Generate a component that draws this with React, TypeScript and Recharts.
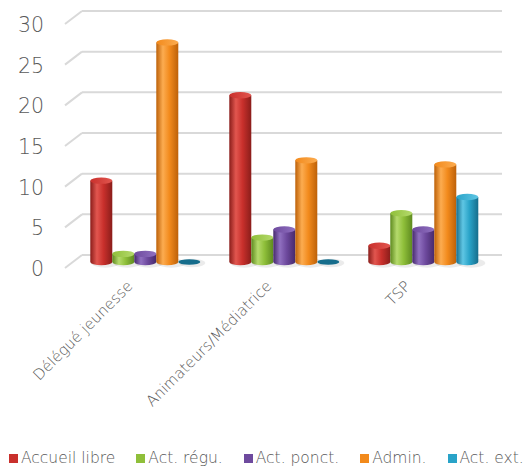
import React from 'react';
import { BarChart, Bar, XAxis, YAxis, CartesianGrid, Legend } from 'recharts';

const categories = ['Délégué jeunesse', 'Animateurs/Médiatrice', 'TSP'];
const accueilLibre = [10, 20.5, 2];
const actRegu = [1, 3, 6];
const actPonct = [1, 4, 4];
const admin = [27, 12.5, 12];
const actExt = [0, 0, 8];
const yTicks = [0, 5, 10, 15, 20, 25, 30];

const seriesDefs = [
  { key: 'accueil', name: 'Accueil libre', values: accueilLibre, base: '#c9302c', light: '#e2564f', dark: '#8a1d1a' },
  { key: 'regu', name: 'Act. régu.', values: actRegu, base: '#8fbf3a', light: '#b5da6c', dark: '#5e8a1f' },
  { key: 'ponct', name: 'Act. ponct.', values: actPonct, base: '#6e4a9e', light: '#9070c0', dark: '#46296c' },
  { key: 'admin', name: 'Admin.', values: admin, base: '#f28a1c', light: '#fcac50', dark: '#bd6109' },
  { key: 'ext', name: 'Act. ext.', values: actExt, base: '#29a3c8', light: '#5fc6e4', dark: '#166d8c' },
];

const data = categories.map((c, i) => {
  const row: any = { name: c };
  seriesDefs.forEach((s) => (row[s.key] = s.values[i]));
  return row;
});

const FONT = '"DejaVu Sans", sans-serif';
const TEXT = '#595959';

const makeCylinder = (s: any) => (props: any) => {
  const { x, y, width, height } = props;
  if (x == null || isNaN(x)) return null;
  const rx = width / 2;
  const ry = 3.2;
  const cx = x + rx;
  const h = Math.max(0, height || 0);
  const bottom = y + h;
  if (h < 0.5) {
    return (
      <g>
        <ellipse cx={cx + 3} cy={bottom + 1} rx={rx + 2} ry={ry + 1} fill="rgba(0,0,0,0.08)" />
        <ellipse cx={cx} cy={bottom} rx={rx} ry={ry - 0.5} fill={s.dark} />
      </g>
    );
  }
  return (
    <g>
      <ellipse cx={cx + 4} cy={bottom + 1} rx={rx + 3} ry={ry + 1.5} fill="rgba(0,0,0,0.08)" />
      <path
        d={`M${x},${y} L${x},${bottom} A${rx},${ry} 0 0 0 ${x + width},${bottom} L${x + width},${y} Z`}
        fill={`url(#grad-${s.key})`}
      />
      <ellipse cx={cx} cy={y} rx={rx} ry={ry} fill={`url(#top-${s.key})`} />
    </g>
  );
};

const GridLine = (props: any) => {
  const { x1, x2, y1 } = props;
  return (
    <g>
      <line x1={x1 - 10} y1={y1 + 6} x2={x1 + 7} y2={y1 - 7} stroke="#d9d9d9" strokeWidth={2} />
      <line x1={x1 + 7} y1={y1 - 7} x2={x2 + 10} y2={y1 - 7} stroke="#d9d9d9" strokeWidth={2} />
    </g>
  );
};

const YTick = (props: any) => {
  const { y, payload } = props;
  return (
    <text x={44} y={y + 7} textAnchor="end" dominantBaseline="central" fontSize={20.5} fontWeight={300} fontFamily={FONT} fill={TEXT}>
      {payload.value}
    </text>
  );
};

const XTick = (props: any) => {
  const { x, y, payload } = props;
  return (
    <text
      transform={`translate(${x - 11},${y + 17}) rotate(-45)`}
      textAnchor="end"
      fontSize={15}
      fontWeight={300}
      fontFamily={FONT}
      fill={TEXT}
    >
      {payload.value}
    </text>
  );
};

const LegendContent = () => (
  <div
    style={{
      display: 'flex',
      gap: 21,
      paddingLeft: 9,
      paddingTop: 17,
      fontFamily: FONT,
      fontSize: 15.5,
      fontWeight: 300,
      color: TEXT,
      whiteSpace: 'nowrap',
    }}
  >
    {seriesDefs.map((s) => (
      <div key={s.key} style={{ display: 'flex', alignItems: 'center' }}>
        <span style={{ display: 'inline-block', width: 9, height: 9, background: s.base, marginRight: 3 }} />
        <span>{s.name}</span>
      </div>
    ))}
  </div>
);

export default function App() {
  return (
    <div style={{ position: 'absolute', left: 0, top: 0, width: 532, height: 467, background: '#fff' }}>
      <BarChart
        width={532}
        height={467}
        data={data}
        margin={{ top: 18, right: 40, bottom: 0, left: 0 }}
        barCategoryGap="11%"
        barGap={0}
      >
        <defs>
          {seriesDefs.map((s) => (
            <linearGradient key={s.key} id={`grad-${s.key}`} x1="0" y1="0" x2="1" y2="0">
              <stop offset="0%" stopColor={s.dark} />
              <stop offset="30%" stopColor={s.light} />
              <stop offset="60%" stopColor={s.base} />
              <stop offset="100%" stopColor={s.dark} />
            </linearGradient>
          ))}
          {seriesDefs.map((s) => (
            <linearGradient key={s.key} id={`top-${s.key}`} x1="0" y1="0" x2="1" y2="0">
              <stop offset="0%" stopColor={s.base} />
              <stop offset="100%" stopColor={s.light} />
            </linearGradient>
          ))}
        </defs>
        <CartesianGrid vertical={false} horizontal={(p: any) => <GridLine key={p.key ?? p.index} {...p} />} />
        <XAxis
          dataKey="name"
          height={170}
          axisLine={false}
          tickLine={false}
          interval={0}
          tick={<XTick />}
        />
        <YAxis
          width={75}
          domain={[0, 30]}
          ticks={yTicks}
          axisLine={false}
          tickLine={false}
          tick={<YTick />}
          interval={0}
        />
        <Legend verticalAlign="bottom" height={35} content={<LegendContent />} />
        {seriesDefs.map((s) => (
          <Bar key={s.key} dataKey={s.key} name={s.name} fill={s.base} isAnimationActive={false} shape={makeCylinder(s)} />
        ))}
      </BarChart>
    </div>
  );
}
